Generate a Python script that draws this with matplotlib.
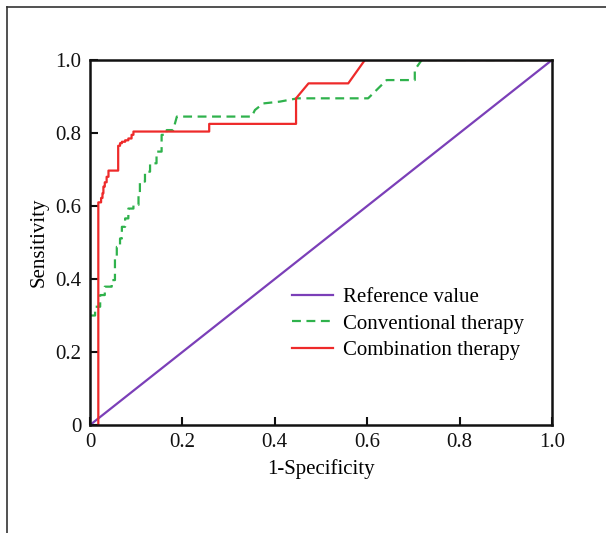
import matplotlib
matplotlib.use("Agg")
import matplotlib.pyplot as plt
from matplotlib.lines import Line2D

# ROC curves (1-specificity, sensitivity)
ref_x = [0, 1]
ref_y = [0, 1]

# conventional therapy: stair-stepped lower part, then the upper part as drawn
conv_step_x = [0, 0.011, 0.022, 0.032, 0.047, 0.054, 0.058, 0.065, 0.069, 0.076, 0.083,
               0.094, 0.105, 0.108, 0.119, 0.130, 0.144, 0.155, 0.166, 0.180]
conv_step_y = [0.30, 0.30, 0.324, 0.356, 0.379, 0.397, 0.461, 0.488, 0.511, 0.543, 0.566,
               0.593, 0.603, 0.635, 0.667, 0.694, 0.717, 0.749, 0.795, 0.808]
conv_x = [0.188, 0.350, 0.357, 0.375, 0.411, 0.449, 0.602, 0.642, 0.703, 0.703, 0.718, 1.0]
conv_y = [0.845, 0.845, 0.863, 0.881, 0.886, 0.895, 0.895, 0.945, 0.945, 0.973, 1.0, 1.0]

# combination therapy
comb_step_x = [0.018, 0.018, 0.024, 0.027, 0.029, 0.032, 0.036, 0.040, 0.047, 0.061,
               0.061, 0.065, 0.069, 0.076, 0.083, 0.090, 0.094, 0.105]
comb_step_y = [0, 0.598, 0.610, 0.622, 0.635, 0.653, 0.665, 0.680, 0.697, 0.697,
               0.758, 0.765, 0.772, 0.776, 0.780, 0.785, 0.795, 0.804]
comb_x = [0.258, 0.258, 0.446, 0.446, 0.473, 0.559, 0.595, 1.0]
comb_y = [0.804, 0.825, 0.825, 0.895, 0.936, 0.936, 1.0, 1.0]

ticks = [0, 0.2, 0.4, 0.6, 0.8, 1.0]
tick_labels = ["0", "0.2", "0.4", "0.6", "0.8", "1.0"]


def stairs(xs, ys):
    # rise first, then run, like a stepped ROC curve
    px, py = [xs[0]], [ys[0]]
    for i in range(1, len(xs)):
        px += [xs[i - 1], xs[i]]
        py += [ys[i], ys[i]]
    return px, py


plt.rcParams['font.family'] = ['Liberation Serif', 'DejaVu Serif']

fig = plt.figure(figsize=(6.06, 5.33), dpi=100)
ax = fig.add_axes([90 / 606, 1 - 425 / 533, 462 / 606, 365 / 533])

sx, sy = stairs(conv_step_x, conv_step_y)
cx, cy = sx + conv_x, sy + conv_y
sx, sy = stairs(comb_step_x, comb_step_y)
rx, ry = sx + comb_x, sy + comb_y

ax.plot(ref_x, ref_y, color='#7b3fb8', lw=1.6, label='Reference value')
ax.plot(cx, cy, color='#2fb24c', lw=1.6, ls=(0, (4, 2.5)), label='Conventional therapy')
ax.plot(rx, ry, color='#ee2a2a', lw=1.6, label='Combination therapy')

ax.set_xlim(0, 1)
ax.set_ylim(0, 1)
ax.set_xticks(ticks)
ax.set_xticklabels(tick_labels)
ax.set_yticks(ticks)
ax.set_yticklabels(tick_labels)
ax.tick_params(direction='in', length=6, width=1.5, labelsize=15, pad=6, colors='#111111')
for s in ax.spines.values():
    s.set_linewidth(1.8)
    s.set_color('#111111')

ax.set_xlabel('1-Specificity', fontsize=15, labelpad=5)
ax.set_ylabel('Sensitivity', fontsize=15, labelpad=5)

ax.legend(loc='center left', bbox_to_anchor=(0.437, 0.277), frameon=False, fontsize=15,
          handlelength=1.95, handletextpad=0.5, labelspacing=0.33,
          borderpad=0, borderaxespad=0)

# partial frame round the figure (left and top edges)
fig.add_artist(Line2D([6.5 / 606, 6.5 / 606], [0, 1 - 6.5 / 533], color='#333333', lw=1.2))
fig.add_artist(Line2D([6.5 / 606, 1], [1 - 6.5 / 533, 1 - 6.5 / 533], color='#333333', lw=1.2))

fig.savefig('out.png', dpi=100)
